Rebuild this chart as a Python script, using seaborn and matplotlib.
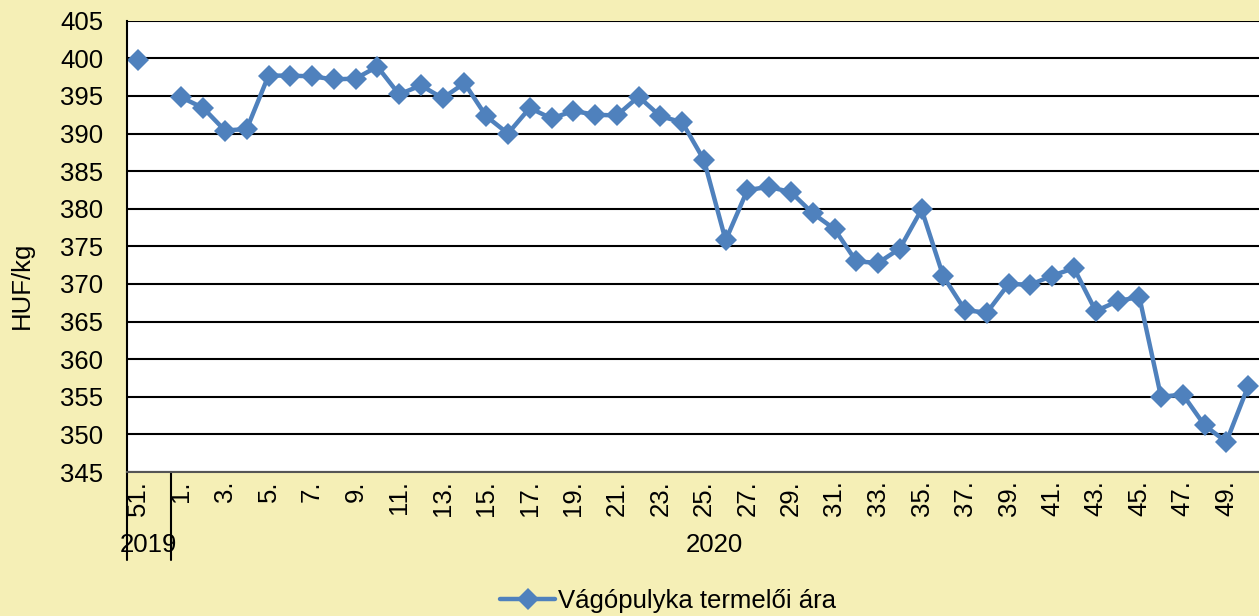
import numpy as np
import pandas as pd
import seaborn as sns
import matplotlib.pyplot as plt
from matplotlib.lines import Line2D
import matplotlib.transforms as mtransforms

# week labels: 2019 week 51-52, then 2020 week 1-50
weeks = ["51.", "52."] + [f"{w}." for w in range(1, 51)]
years = ["2019", "2020"]
prices = [399.8, np.nan,
          394.8, 393.4, 390.4, 390.6, 397.7, 397.7, 397.6, 397.2, 397.3, 398.9,
          395.2, 396.4, 394.7, 396.7, 392.3, 390.0, 393.4, 392.0, 393.0, 392.5,
          392.4, 394.9, 392.3, 391.5, 386.5, 375.8, 382.5, 382.9, 382.2, 379.4,
          377.3, 373.0, 372.8, 374.7, 379.9, 371.0, 366.5, 366.2, 370.0, 369.9,
          371.1, 372.1, 366.4, 367.7, 368.3, 355.0, 355.3, 351.2, 349.0, 356.4]
series_name = "Vágópulyka termelői ára"

df = pd.DataFrame({"idx": np.arange(len(weeks)), "week": weeks, "price": prices})
# split into runs so the missing week leaves a gap
df["seg"] = df["price"].isna().cumsum()
df = df.dropna()

bg = "#F5EFB6"
blue = "#4F81BD"
fs = 18.5

sns.set_style("white")
plt.rcParams["font.family"] = ["Liberation Sans", "DejaVu Sans"]
plt.rcParams["text.color"] = "black"
plt.rcParams["xtick.color"] = "black"
plt.rcParams["ytick.color"] = "black"

fig = plt.figure(figsize=(12.59, 6.16), dpi=100, facecolor=bg)
ax = fig.add_axes([127 / 1259, 1 - 472 / 616, 1 - 127 / 1259, 451.3 / 616])
ax.set_facecolor("white")

sns.lineplot(data=df, x="idx", y="price", units="seg", estimator=None,
             color=blue, linewidth=3.2, marker="D", markersize=11.5,
             markeredgewidth=0, ax=ax, legend=False)

ax.set_xlim(-0.5, len(weeks) - 0.5)
ax.set_ylim(345, 405)
ax.set_yticks(np.arange(345, 406, 5))
ax.yaxis.grid(True, color="black", linewidth=1.5)
ax.set_axisbelow(True)
ax.set_xticks(np.arange(0, len(weeks) - 1, 2))
ax.set_xticklabels([weeks[i] for i in range(0, len(weeks) - 1, 2)], rotation=90)
ax.tick_params(axis="y", length=6, width=1.5, colors="black", pad=11, labelsize=fs)
ax.tick_params(axis="x", length=0, pad=6, colors="black", labelsize=fs)
ax.set_xlabel("")
ax.set_ylabel("")

for s in ["top", "right"]:
    ax.spines[s].set_visible(False)
ax.spines["left"].set_color("black")
ax.spines["left"].set_linewidth(1.5)
ax.spines["bottom"].set_color("#555555")
ax.spines["bottom"].set_linewidth(1.5)

# year group separators and labels
trans = mtransforms.blended_transform_factory(ax.transData, ax.transAxes)
for xs in [-0.5, 1.5]:
    ax.plot([xs, xs], [0, -0.195], transform=trans, color="black",
            linewidth=1.5, clip_on=False)
ax.text(0.5, -0.162, years[0], transform=trans, ha="center", va="center",
        fontsize=fs, color="black")
ax.text(26.5, -0.162, years[1], transform=trans, ha="center", va="center",
        fontsize=fs, color="black")

fig.text(22 / 1259, 1 - 285 / 616, "HUF/kg", rotation=90, ha="center",
         va="center", fontsize=fs, color="black")

handle = Line2D([], [], color=blue, linewidth=3.2, marker="D", markersize=11.5,
                markeredgewidth=0)
fig.legend([handle], [series_name], loc="center",
           bbox_to_anchor=(668 / 1259, 1 - 601 / 616), frameon=False,
           fontsize=fs, handlelength=2.15, handletextpad=0.1, labelcolor="black")

fig.savefig("out.png", dpi=100, facecolor=bg)
